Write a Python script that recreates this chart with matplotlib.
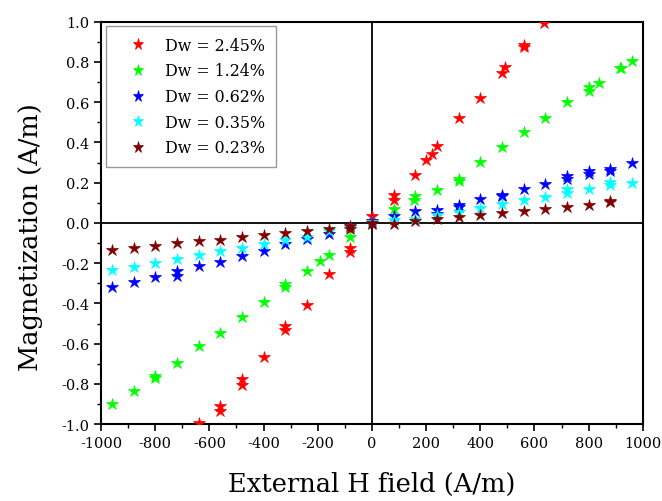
# Magnetization vs external H field for several Dw values
import numpy as np
import matplotlib.pyplot as plt

plt.rcParams['font.family'] = ['DejaVu Serif']
plt.rcParams['axes.unicode_minus'] = False

# Dw = 2.45%
h_245 = [-640, -560, -560, -480, -480, -400, -320, -320, -240, -160, -80, -80,
         0, 80, 80, 160, 200, 220, 240, 320, 400, 480, 490, 560, 560, 635]
m_245 = [-0.995, -0.912, -0.935, -0.776, -0.804, -0.668, -0.511, -0.532, -0.408, -0.254, -0.124, -0.143,
         0.033, 0.139, 0.114, 0.24, 0.312, 0.34, 0.38, 0.52, 0.622, 0.746, 0.775, 0.882, 0.874, 0.995]

# Dw = 1.24%
h_124 = [-960, -880, -800, -800, -720, -640, -560, -480, -400, -320, -320, -240, -190, -160, -80,
         80, 155, 160, 240, 320, 320, 400, 480, 560, 640, 720, 800, 800, 840, 915, 920, 960]
m_124 = [-0.90, -0.837, -0.76, -0.771, -0.697, -0.612, -0.546, -0.469, -0.395, -0.305, -0.317, -0.237, -0.189, -0.158, -0.068,
         0.07, 0.114, 0.133, 0.163, 0.219, 0.21, 0.303, 0.375, 0.451, 0.521, 0.60, 0.675, 0.655, 0.697, 0.77, 0.77, 0.806]

# Dw = 0.62%
h_062 = [-960, -880, -800, -720, -720, -640, -560, -480, -400, -320, -240, -160, -80, 0,
         80, 160, 240, 240, 320, 320, 400, 480, 480, 560, 640, 720, 720, 800, 800, 880, 880, 960]
m_062 = [-0.317, -0.294, -0.269, -0.24, -0.265, -0.215, -0.192, -0.163, -0.138, -0.104, -0.08, -0.053, -0.02, 0.008,
         0.033, 0.058, 0.066, 0.045, 0.09, 0.078, 0.118, 0.139, 0.135, 0.169, 0.194, 0.235, 0.219, 0.26, 0.244, 0.269, 0.26, 0.299]

# Dw = 0.35%
h_035 = [-960, -880, -800, -720, -640, -560, -480, -400, -320, -240, -160, -80, 0,
         80, 160, 240, 320, 400, 480, 560, 640, 720, 720, 800, 880, 880, 960]
m_035 = [-0.234, -0.217, -0.197, -0.181, -0.158, -0.141, -0.123, -0.103, -0.083, -0.071, -0.041, -0.02, 0.005,
         0.015, 0.02, 0.04, 0.056, 0.073, 0.095, 0.113, 0.128, 0.169, 0.148, 0.166, 0.205, 0.186, 0.20]

# Dw = 0.23%
h_023 = [-960, -880, -800, -720, -640, -560, -480, -400, -320, -240, -160, -80, -80, 0,
         0, 80, 160, 240, 320, 400, 480, 560, 640, 720, 800, 880, 880]
m_023 = [-0.133, -0.124, -0.113, -0.101, -0.091, -0.083, -0.070, -0.060, -0.050, -0.038, -0.030, -0.013, -0.03, -0.005,
         -0.002, -0.005, 0.007, 0.018, 0.03, 0.04, 0.05, 0.06, 0.07, 0.081, 0.09, 0.103, 0.111]

series = [
    (h_245, m_245, '#ff0000', 'Dw = 2.45%'),
    (h_124, m_124, '#00ff00', 'Dw = 1.24%'),
    (h_062, m_062, '#0000ff', 'Dw = 0.62%'),
    (h_035, m_035, '#00ffff', 'Dw = 0.35%'),
    (h_023, m_023, '#800000', 'Dw = 0.23%'),
]

fig = plt.figure(figsize=(6.62, 5.02), dpi=100)
ax = fig.add_axes([0.1526, 0.153, 0.8184, 0.802])

ax.axhline(0, color='black', lw=1.3, zorder=1)
ax.axvline(0, color='black', lw=1.3, zorder=1)

for h, m, c, lab in series:
    ax.plot(h, m, linestyle='none', marker='*', markersize=9, color=c,
            markeredgewidth=0.5, label=lab, zorder=3)

yt = np.round(np.arange(-1.0, 1.01, 0.2), 1)
ax.set_xlim(-1000, 1000)
ax.set_ylim(-1.0, 1.0)
ax.set_xticks(np.arange(-1000, 1001, 200))
ax.set_xticks(np.arange(-1000, 1001, 100), minor=True)
ax.set_yticks(yt)
ax.set_yticks(np.arange(-1.0, 1.01, 0.1), minor=True)
ax.set_yticklabels(['%.1f' % (v + 0.0) for v in yt])
ax.tick_params(which='major', direction='out', length=5, width=1.2, labelsize=10.5)
ax.tick_params(which='minor', direction='out', length=3, width=1.0)
for s in ax.spines.values():
    s.set_linewidth(1.5)

ax.set_xlabel('External H field (A/m)', fontsize=18.5, labelpad=15)
ax.set_ylabel('Magnetization (A/m)', fontsize=18.5)
ax.yaxis.set_label_coords(-0.108, 0.468)

leg = ax.legend(loc='upper left', fontsize=11.4, frameon=True, fancybox=False,
                edgecolor='gray', borderaxespad=0.3, borderpad=0.65,
                handlelength=2.8, handletextpad=0.3,
                labelspacing=0.55, markerscale=0.9)
leg.get_frame().set_linewidth(1.0)

fig.savefig('out.png', dpi=100)
